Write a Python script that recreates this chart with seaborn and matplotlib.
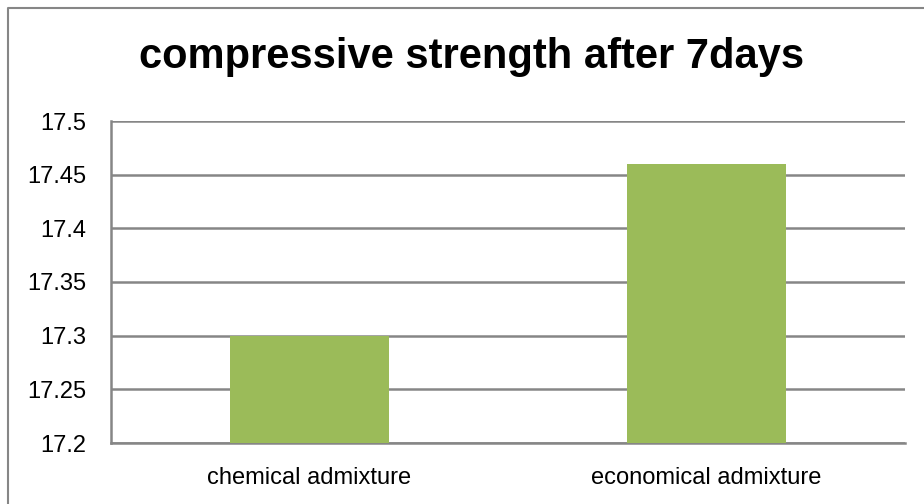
import numpy as np
import pandas as pd
import matplotlib.pyplot as plt
import matplotlib.lines as mlines
import seaborn as sns

categories = ["chemical admixture", "economical admixture"]
values = [17.30, 17.46]
yticks = [17.2, 17.25, 17.3, 17.35, 17.4, 17.45, 17.5]
ytick_labels = ["17.2", "17.25", "17.3", "17.35", "17.4", "17.45", "17.5"]

sns.set_style("white")
plt.rcParams["font.family"] = ["Liberation Sans Narrow", "Liberation Sans", "DejaVu Sans"]
plt.rcParams["text.color"] = "black"
plt.rcParams["xtick.color"] = "black"
plt.rcParams["ytick.color"] = "black"

df = pd.DataFrame({"cat": categories, "val": values})

fig = plt.figure(figsize=(9.24, 5.04), dpi=100)
ax = fig.add_axes([111 / 924, 1 - 443 / 504, 794 / 924, 322 / 504])

sns.barplot(data=df, x="cat", y="val", color="#9BBB59", saturation=1, width=0.4, ax=ax,
            linewidth=0, zorder=3)
# bars start from the bottom of the axis
for p, v in zip(ax.patches, values):
    p.set_y(17.2)
    p.set_height(v - 17.2)

ax.set_ylim(17.2, 17.5)
ax.set_yticks(yticks)
ax.set_yticklabels(ytick_labels, fontsize=17)
ax.tick_params(axis="x", labelsize=17, length=0, pad=17)
ax.tick_params(axis="y", length=0, pad=18)
ax.yaxis.grid(True, color="#868686", linewidth=1.8, zorder=0)
ax.set_axisbelow(True)
ax.set_xlabel("")
ax.set_ylabel("")
for s in ["top", "right"]:
    ax.spines[s].set_visible(False)
for s in ["left", "bottom"]:
    ax.spines[s].set_color("#868686")
    ax.spines[s].set_linewidth(1.8)

fig.text(472 / 924, 1 - 57 / 504, "compressive strength after 7days", ha="center", va="center",
         fontsize=30, fontweight="bold")

# outer chart frame (left and top edges only visible)
fig.lines.append(mlines.Line2D([8 / 924, 8 / 924, 1.0], [0.0, 1 - 8 / 504, 1 - 8 / 504],
                               transform=fig.transFigure, color="#868686", linewidth=1.5))

fig.savefig("out.png", dpi=100)
